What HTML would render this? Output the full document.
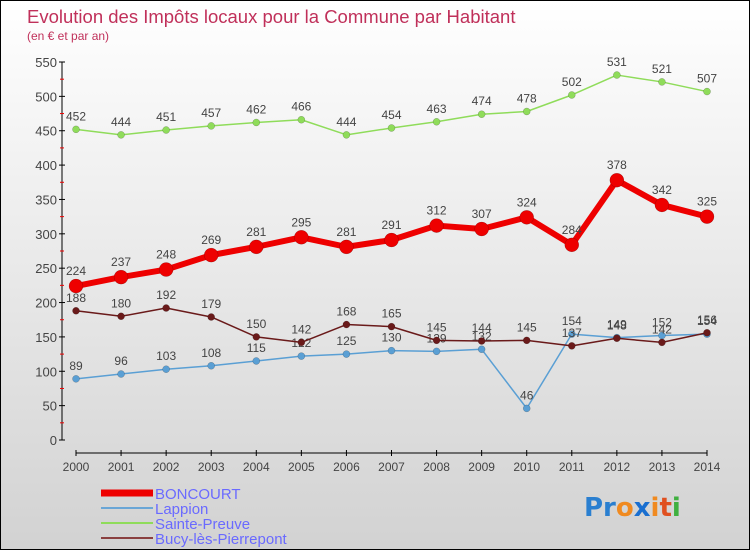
<!DOCTYPE html>
<html><head><meta charset="utf-8"><style>
body{margin:0}
#c{width:748px;height:548px;border:1px solid #000;background:linear-gradient(#fff,#d2d2d2);position:relative;overflow:hidden;font-family:"Liberation Sans",sans-serif}
</style></head><body>
<div id="c">
<svg id="s" width="748" height="548" style="position:absolute;left:0;top:0">
<text x="26" y="22" font-size="18.5" fill="#c0305a">Evolution des Impôts locaux pour la Commune par Habitant</text>
<text x="26" y="39" font-size="12" fill="#c0305a">(en € et par an)</text>
<g id="axes"></g><g id="series"></g>
<g font-size="15" fill="#6a6aff">
<line x1="100" y1="492" x2="152" y2="492" stroke="#e00" stroke-width="7"/><text x="154" y="498">BONCOURT</text>
<line x1="100" y1="507" x2="152" y2="507" stroke="#6aa6d6" stroke-width="2"/><text x="154" y="513">Lappion</text>
<line x1="100" y1="522" x2="152" y2="522" stroke="#8fdc5a" stroke-width="2"/><text x="154" y="528">Sainte-Preuve</text>
<line x1="100" y1="537" x2="152" y2="537" stroke="#8a4040" stroke-width="2"/><text x="154" y="543">Bucy-lès-Pierrepont</text>
</g>
<g font-size="26" font-family="DejaVu Sans" font-weight="bold">
<text x="583" y="515"><tspan fill="#2a7fd0">Pr</tspan><tspan fill="#f08a20">o</tspan><tspan fill="#1a6fd0">x</tspan><tspan fill="#f08a20">i</tspan><tspan fill="#e05020">t</tspan><tspan fill="#40b040">i</tspan></text>
</g>
</svg>
</div>
<script>
const years=[2000,2001,2002,2003,2004,2005,2006,2007,2008,2009,2010,2011,2012,2013,2014];
const yTicks=[0,50,100,150,200,250,300,350,400,450,500,550];
const boncourt=[224,237,248,269,281,295,281,291,312,307,324,284,378,342,325];
const lappion=[89,96,103,108,115,122,125,130,129,132,46,154,149,152,154];
const saintePreuve=[452,444,451,457,462,466,444,454,463,474,478,502,531,521,507];
const bucy=[188,180,192,179,150,142,168,165,145,144,145,137,148,142,156];
const NS="http://www.w3.org/2000/svg";
function X(i){return 75+i*(706-75)/14}
function Y(v){return 439-v*378/550}
function mk(t,a,p){const e=document.createElementNS(NS,t);for(const k in a)e.setAttribute(k,a[k]);p.appendChild(e);return e}
const ax=document.getElementById('axes');
let yl=mk('line',{x1:61,y1:Y(550),x2:61,y2:439,stroke:'#000'},ax);


yTicks.forEach((v,i)=>{
 mk('line',{x1:58,x2:64,y1:Y(v),y2:Y(v),stroke:'#000'},ax);
 if(i<yTicks.length-1)mk('line',{x1:59,x2:63,y1:Y(v+25),y2:Y(v+25),stroke:'#e00'},ax);
 const t=mk('text',{x:56,y:Y(v)+5,'text-anchor':'end','font-size':13,fill:'#444'},ax);t.textContent=v;
 
 
});
let xl=mk('line',{x1:75,y1:452,x2:706,y2:452,stroke:'#000'},ax);


years.forEach((y,i)=>{
 mk('line',{x1:X(i),x2:X(i),y1:449,y2:455,stroke:'#000'},ax);
 const t=mk('text',{x:X(i),y:470,'text-anchor':'middle','font-size':12,fill:'#444'},ax);t.textContent=y;
 
 
});
const sg=document.getElementById('series');
function draw(data,color,w,r,name,lab){
 const g=mk('g',{},sg);
 
 
 mk('polyline',{points:data.map((v,i)=>X(i)+','+Y(v)).join(' '),fill:'none',stroke:color,'stroke-width':w,'stroke-linejoin':'round'},g);
 data.forEach((v,i)=>{
  const c=mk('circle',{cx:X(i),cy:Y(v),r:r,fill:color,stroke:'rgba(0,0,0,0.3)','stroke-width':0.5},g);
  
  
  const t=mk('text',{x:X(i),y:Y(v)-lab,'text-anchor':'middle','font-size':12,fill:'#444'},g);t.textContent=v;
  
  
 });
}
draw(saintePreuve,'#8fdc5a',1.5,3.5,'sainte-preuve-series',9);
draw(lappion,'#5a9fd4',1.5,3.5,'lappion-series',9);
draw(bucy,'#6a1a1a',1.5,3.5,'bucy-series',9);
draw(boncourt,'#ee0000',6,7,'boncourt-series',11);
</script>
</body></html>
